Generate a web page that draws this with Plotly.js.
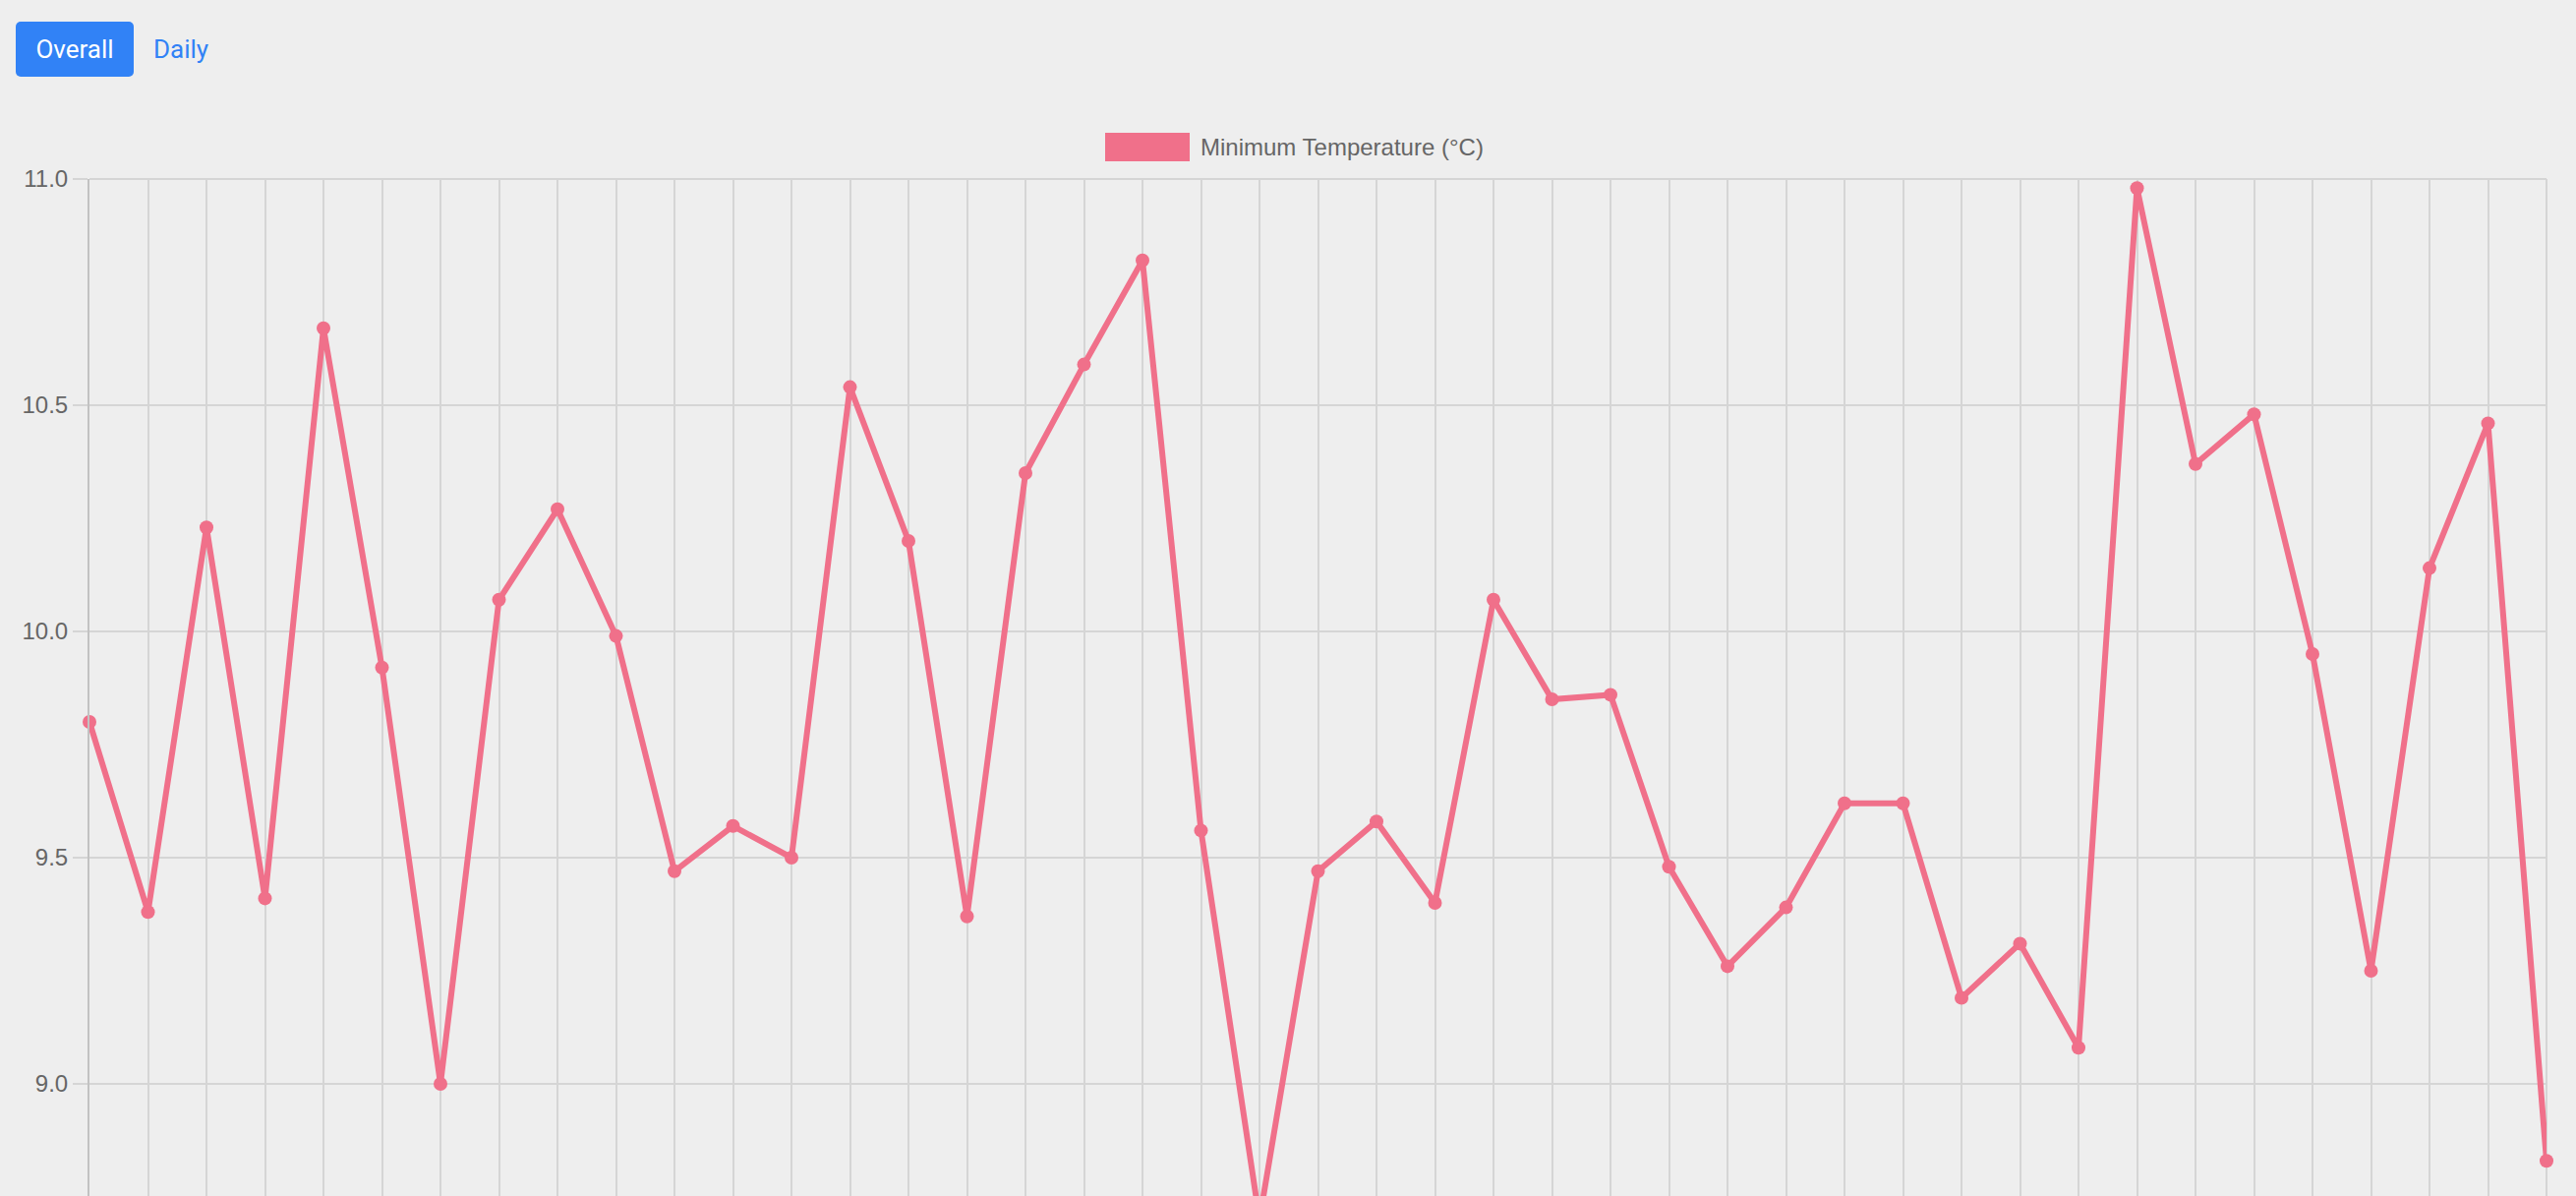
<!DOCTYPE html>
<html>
<head>
<meta charset="utf-8">
<script src="https://cdn.plot.ly/plotly-3.0.1.min.js"></script>
<style>
  html, body { margin: 0; padding: 0; background: #eeeeee; width: 2620px; height: 1216px; overflow: hidden; }
  #btns { position: absolute; left: 16px; top: 22px; display: flex; align-items: center; z-index: 10; }
  .btn { font-family: "Roboto", "Inter", sans-serif; font-size: 26px; height: 56px; box-sizing: border-box;
         display: flex; align-items: center; justify-content: center; border-radius: 5px; }
  .btn.active { background: #3182f6; color: #ffffff; width: 120px; }
  .btn.link { color: #3182f6; padding-left: 20px; }
  #chart { position: absolute; left: 0; top: 0; width: 2620px; height: 1216px; }
</style>
</head>
<body>
<div id="btns"><div class="btn active">Overall</div><div class="btn link">Daily</div></div>
<div id="chart"></div>
<script>
// ---- data ----
const categories = [
  "1","2","3","4","5","6","7","8","9","10","11","12","13","14","15","16","17","18","19","20",
  "21","22","23","24","25","26","27","28","29","30","31","32","33","34","35","36","37","38","39","40",
  "41","42","43"
];
const minTemp = [
  9.80, 9.38, 10.23, 9.41, 10.67, 9.92, 9.00, 10.07, 10.27, 9.99,
  9.47, 9.57, 9.50, 10.54, 10.20, 9.37, 10.35, 10.59, 10.82, 9.56,
  8.70, 9.47, 9.58, 9.40, 10.07, 9.85, 9.86, 9.48, 9.26, 9.39,
  9.62, 9.62, 9.19, 9.31, 9.08, 10.98, 10.37, 10.48, 9.95, 9.25,
  10.14, 10.46, 8.83
];
const seriesName = "Minimum Temperature (°C)";
const yTickVals = [9.0, 9.5, 10.0, 10.5, 11.0];

// ---- layout constants (pixels) ----
const W = 2620, H = 1216;
const plotL = 91, plotR = 2590, plotT = 182, plotB = 1216;
const lineColor = "#f0708a";
const gridColor = "#d5d5d5";

const pxX = px => (px - plotL) / (plotR - plotL);
const pxY = py => (plotB - py) / (plotB - plotT);

const yTop = 11.0;
const pxPerUnit = 460;
const yBottom = yTop - (plotB - plotT) / pxPerUnit;

const trace = {
  type: "scatter",
  mode: "lines+markers",
  x: categories,
  y: minTemp,
  name: seriesName,
  showlegend: false,
  cliponaxis: false,
  line: { color: lineColor, width: 6, shape: "linear" },
  marker: { color: lineColor, size: 14 }
};

const layout = {
  width: W, height: H,
  paper_bgcolor: "#eeeeee",
  plot_bgcolor: "#eeeeee",
  margin: { l: plotL, r: W - plotR, t: plotT, b: H - plotB, pad: 0 },
  showlegend: false,
  font: { family: "Liberation Sans, Arial, sans-serif", color: "#666666", size: 24 },
  xaxis: {
    type: "category",
    range: [0, categories.length - 1],
    showgrid: true, gridcolor: gridColor, gridwidth: 2,
    showticklabels: false, ticks: "", zeroline: false,
    showline: false, fixedrange: true
  },
  yaxis: {
    range: [yBottom, yTop],
    tickvals: yTickVals,
    ticktext: yTickVals.map(v => v.toFixed(1)),
    showgrid: true, gridcolor: gridColor, gridwidth: 2,
    ticks: "outside", ticklen: 15, tickwidth: 2, tickcolor: gridColor,
    tickfont: { size: 24, color: "#666666", family: "Liberation Sans, Arial, sans-serif" },
    showline: true, linecolor: "#c2c2c2", linewidth: 2,
    zeroline: false, fixedrange: true
  },
  shapes: [
    { type: "line", xref: "paper", yref: "paper", layer: "below",
      x0: 1, x1: 1, y0: 0, y1: 1, line: { color: gridColor, width: 2 } },
    { type: "line", xref: "paper", yref: "paper", layer: "below",
      x0: 0, x1: 1, y0: 1, y1: 1, line: { color: gridColor, width: 2 } },
    { type: "rect", xref: "paper", yref: "paper",
      x0: pxX(1124), x1: pxX(1210), y0: pxY(164), y1: pxY(135),
      fillcolor: lineColor, line: { width: 0 } }
  ],
  annotations: [
    { xref: "paper", yref: "paper", x: pxX(1219), y: pxY(150),
      xanchor: "left", yanchor: "middle", showarrow: false,
      text: seriesName,
      font: { size: 24, color: "#666666", family: "Liberation Sans, Arial, sans-serif" } }
  ]
};

Plotly.newPlot("chart", [trace], layout, { displayModeBar: false, staticPlot: true });
</script>
</body>
</html>
